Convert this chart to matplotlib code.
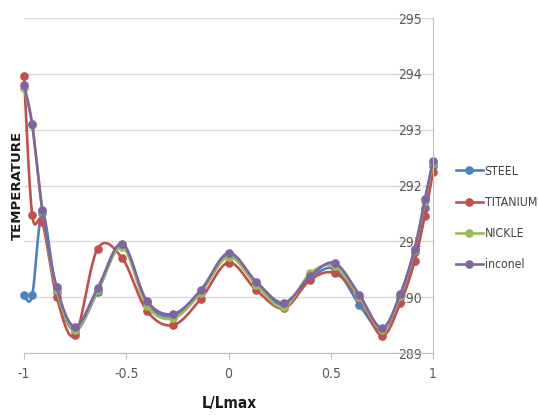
import numpy as np
import matplotlib
matplotlib.use("Agg")
import matplotlib.pyplot as plt
from matplotlib import font_manager
from matplotlib.font_manager import FontProperties
from matplotlib.lines import Line2D

# data
x = [-1, -0.96, -0.91, -0.84, -0.75, -0.64, -0.52, -0.40, -0.27, -0.135, 0,
     0.135, 0.27, 0.40, 0.52, 0.64, 0.75, 0.84, 0.91, 0.96, 1]
steel = [290.03, 290.03, 291.50, 290.10, 289.40, 290.10, 290.92, 289.90, 289.66, 290.10, 290.76,
         290.25, 289.86, 290.34, 290.50, 289.86, 289.40, 289.98, 290.80, 291.60, 292.35]
titanium = [293.97, 291.48, 291.34, 290.00, 289.32, 290.87, 290.70, 289.76, 289.50, 289.97, 290.62,
            290.13, 289.80, 290.31, 290.43, 289.98, 289.31, 289.89, 290.64, 291.46, 292.24]
nickle = [293.75, 293.08, 291.55, 290.12, 289.42, 290.12, 290.90, 289.85, 289.62, 290.08, 290.72,
          290.22, 289.82, 290.43, 290.55, 290.00, 289.42, 290.02, 290.85, 291.72, 292.40]
inconel = [293.80, 293.10, 291.56, 290.18, 289.47, 290.16, 290.96, 289.94, 289.70, 290.13, 290.79,
           290.28, 289.90, 290.38, 290.61, 290.04, 289.45, 290.06, 290.87, 291.75, 292.44]

names = ["STEEL", "TITANIUM", "NICKLE", "inconel"]
colors = ["#4F81BD", "#C0504D", "#9BBB59", "#8064A2"]
xticks = [-1, -0.5, 0, 0.5, 1]
xtick_labels = ["-1", "-0.5", "0", "0.5", "1"]
yticks = [289, 290, 291, 292, 293, 294, 295]


def smooth(xs, ys, n=24):
    # excel-like smoothed line: bezier segments through the points
    p = np.column_stack([xs, ys])
    p = np.vstack([p[0], p, p[-1]])
    t = np.linspace(0, 1, n)[:, None]
    out = []
    for i in range(1, len(p) - 2):
        p0, p1, p2, p3 = p[i - 1], p[i], p[i + 1], p[i + 2]
        c1 = p1 + (p2 - p0) / 6
        c2 = p2 - (p3 - p1) / 6
        seg = (1 - t) ** 3 * p1 + 3 * (1 - t) ** 2 * t * c1 + 3 * (1 - t) * t ** 2 * c2 + t ** 3 * p2
        out.append(seg if i == 1 else seg[1:])
    s = np.vstack(out)
    return s[:, 0], s[:, 1]


def narrow_font(size, bold=False):
    # look for a condensed / narrow face, else plain Liberation Sans a bit smaller
    for f in font_manager.fontManager.ttflist:
        is_bold = f.weight in ("bold", 700) or (isinstance(f.weight, int) and f.weight >= 600)
        if (f.stretch in ("condensed", "semi-condensed") or "Narrow" in f.name) and is_bold == bold \
                and f.style == "normal":
            return FontProperties(fname=f.fname, size=size)
    return FontProperties(family="Liberation Sans", size=size * 0.9,
                          weight="bold" if bold else "normal")


tick_font = narrow_font(10)
leg_font = narrow_font(8.8)
xlab_font = narrow_font(11, bold=True)

fig = plt.figure(figsize=(5.38, 4.15), dpi=100)
ax = fig.add_axes([24 / 538, 1 - 353 / 415, 409 / 538, 335 / 415])

for ys, c in zip([steel, titanium, nickle, inconel], colors):
    sx, sy = smooth(x, ys)
    ax.plot(sx, sy, color=c, lw=1.9, solid_capstyle="round", clip_on=False)
    ax.plot(x, ys, "o", color=c, ms=5.2, clip_on=False)

ax.set_xlim(-1, 1)
ax.set_ylim(289, 295)
ax.set_xticks(xticks)
ax.set_xticklabels(xtick_labels, fontproperties=tick_font, color="#595959")
ax.set_yticks(yticks)
ax.grid(axis="y", color="#D9D9D9", lw=1)
ax.set_axisbelow(True)

for s in ["left", "top"]:
    ax.spines[s].set_visible(False)
ax.spines["bottom"].set_color("#BFBFBF")
ax.spines["right"].set_color("#BFBFBF")

ax.tick_params(axis="x", length=4, color="#BFBFBF", pad=6)
ax.tick_params(axis="y", left=False, right=False, labelleft=False, labelright=True, pad=-11.5)
ax.set_yticklabels([str(v) for v in yticks], fontproperties=tick_font, color="#595959")
for lab in ax.get_yticklabels():
    lab.set_horizontalalignment("right")

fig.text(17 / 538, 1 - 185 / 415, "TEMPERATURE", rotation=90, ha="center", va="center",
         fontweight="bold", fontsize=9.5, color="#1a1a1a")
fig.text(229 / 538, 1 - 403 / 415, "L/Lmax", ha="center", va="center",
         fontproperties=xlab_font, color="#1a1a1a")

handles = [Line2D([], [], color=c, lw=1.9, marker="o", ms=5.2) for c in colors]
fig.legend(handles, names, loc="center left", bbox_to_anchor=(456 / 538, 1 - 218 / 415),
           frameon=False, handlelength=2.2, handletextpad=0.15, labelspacing=1.5,
           borderpad=0, borderaxespad=0, prop=leg_font, labelcolor="#404040")

fig.savefig("out.png", dpi=100)
